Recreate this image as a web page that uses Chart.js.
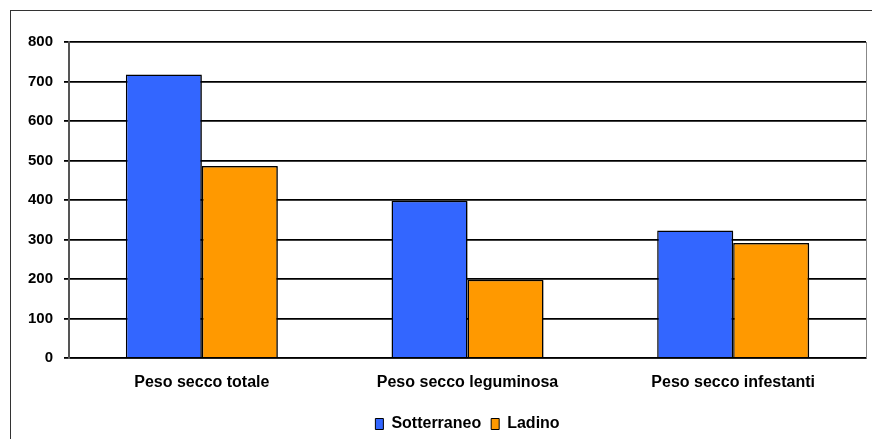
<!DOCTYPE html>
<html>
<head>
<meta charset="utf-8">
<script src="https://cdn.jsdelivr.net/npm/chart.js@4/dist/chart.umd.min.js"></script>
<style>
  html, body { margin: 0; padding: 0; background: #fff; }
  #wrap { width: 872px; height: 439px; position: relative; }
</style>
</head>
<body>
<div id="wrap"><canvas id="c" width="872" height="439"></canvas></div>
<script>
// Dry weight per component, two varieties
const categories = ["Peso secco totale", "Peso secco leguminosa", "Peso secco infestanti"];
const sotterraneo = [718, 398, 323];
const ladino = [486, 198, 291];
const seriesNames = ["Sotterraneo", "Ladino"];
const yTicks = [0, 100, 200, 300, 400, 500, 600, 700, 800];

const FONT = "'Liberation Sans', Arial, sans-serif";

// Outer frame around the whole chart
const framePlugin = {
  id: 'frame',
  beforeDraw(chart) {
    const ctx = chart.ctx;
    ctx.save();
    ctx.strokeStyle = '#333';
    ctx.lineWidth = 1;
    ctx.strokeRect(10.5, 10.5, chart.width + 20, chart.height + 20);
    ctx.restore();
  }
};

// Soft grey drop shadow behind the bars
const shadowPlugin = {
  id: 'barShadow',
  beforeDatasetsDraw(chart) {
    const ctx = chart.ctx;
    ctx.save();
    ctx.shadowColor = 'rgba(0,0,0,0.3)';
    ctx.shadowOffsetX = 2;
    ctx.shadowOffsetY = 1;
    ctx.shadowBlur = 0;
  },
  afterDatasetsDraw(chart) {
    chart.ctx.restore();
  }
};

// Right border of the plot area
const plotBorder = {
  id: 'plotBorder',
  afterDraw(chart) {
    const a = chart.chartArea, ctx = chart.ctx;
    ctx.save();
    ctx.strokeStyle = '#888';
    ctx.lineWidth = 1;
    ctx.beginPath();
    ctx.moveTo(Math.round(a.right) + 0.5, a.top);
    ctx.lineTo(Math.round(a.right) + 0.5, a.bottom);
    ctx.stroke();
    ctx.restore();
  }
};

new Chart(document.getElementById('c'), {
  type: 'bar',
  data: {
    labels: categories,
    datasets: [
      { label: seriesNames[0], data: sotterraneo, backgroundColor: '#3366FF', borderColor: '#000', borderWidth: 1.5 },
      { label: seriesNames[1], data: ladino, backgroundColor: '#FF9900', borderColor: '#000', borderWidth: 1.5 }
    ]
  },
  options: {
    responsive: false,
    animation: false,
    devicePixelRatio: 1,
    layout: { padding: { top: 42, right: 6, left: 0, bottom: -3 } },
    datasets: { bar: { categoryPercentage: 0.572, barPercentage: 1.0 } },
    scales: {
      x: {
        grid: { display: false, drawTicks: false },
        border: { display: true, color: '#000', width: 1.5 },
        ticks: { color: '#000', font: { family: FONT, size: 16, weight: 'bold' }, padding: 15, maxRotation: 0 },
        afterFit(scale) { scale.height = 48; }
      },
      y: {
        min: 0, max: 800,
        afterBuildTicks(scale) { scale.ticks = yTicks.map(v => ({ value: v })); },
        grid: { color: '#000', lineWidth: 1.8, drawTicks: true, tickLength: 5, tickColor: '#000' },
        border: { display: true, color: '#555', width: 2 },
        ticks: { color: '#000', font: { family: FONT, size: 15, weight: 'bold' }, padding: 11 },
        afterFit(scale) { scale.width = 69; }
      }
    },
    plugins: {
      legend: {
        position: 'bottom',
        fullSize: false,
        labels: {
          color: '#000',
          font: { family: FONT, size: 16, weight: 'bold' },
          boxWidth: 8, boxHeight: 11, padding: 10,
          generateLabels(chart) {
            return chart.data.datasets.map((d, i) => ({
              text: d.label, fillStyle: d.backgroundColor, strokeStyle: '#000', lineWidth: 1, datasetIndex: i
            }));
          }
        }
      },
      tooltip: { enabled: false }
    }
  },
  plugins: [framePlugin, shadowPlugin, plotBorder]
});
</script>
</body>
</html>
